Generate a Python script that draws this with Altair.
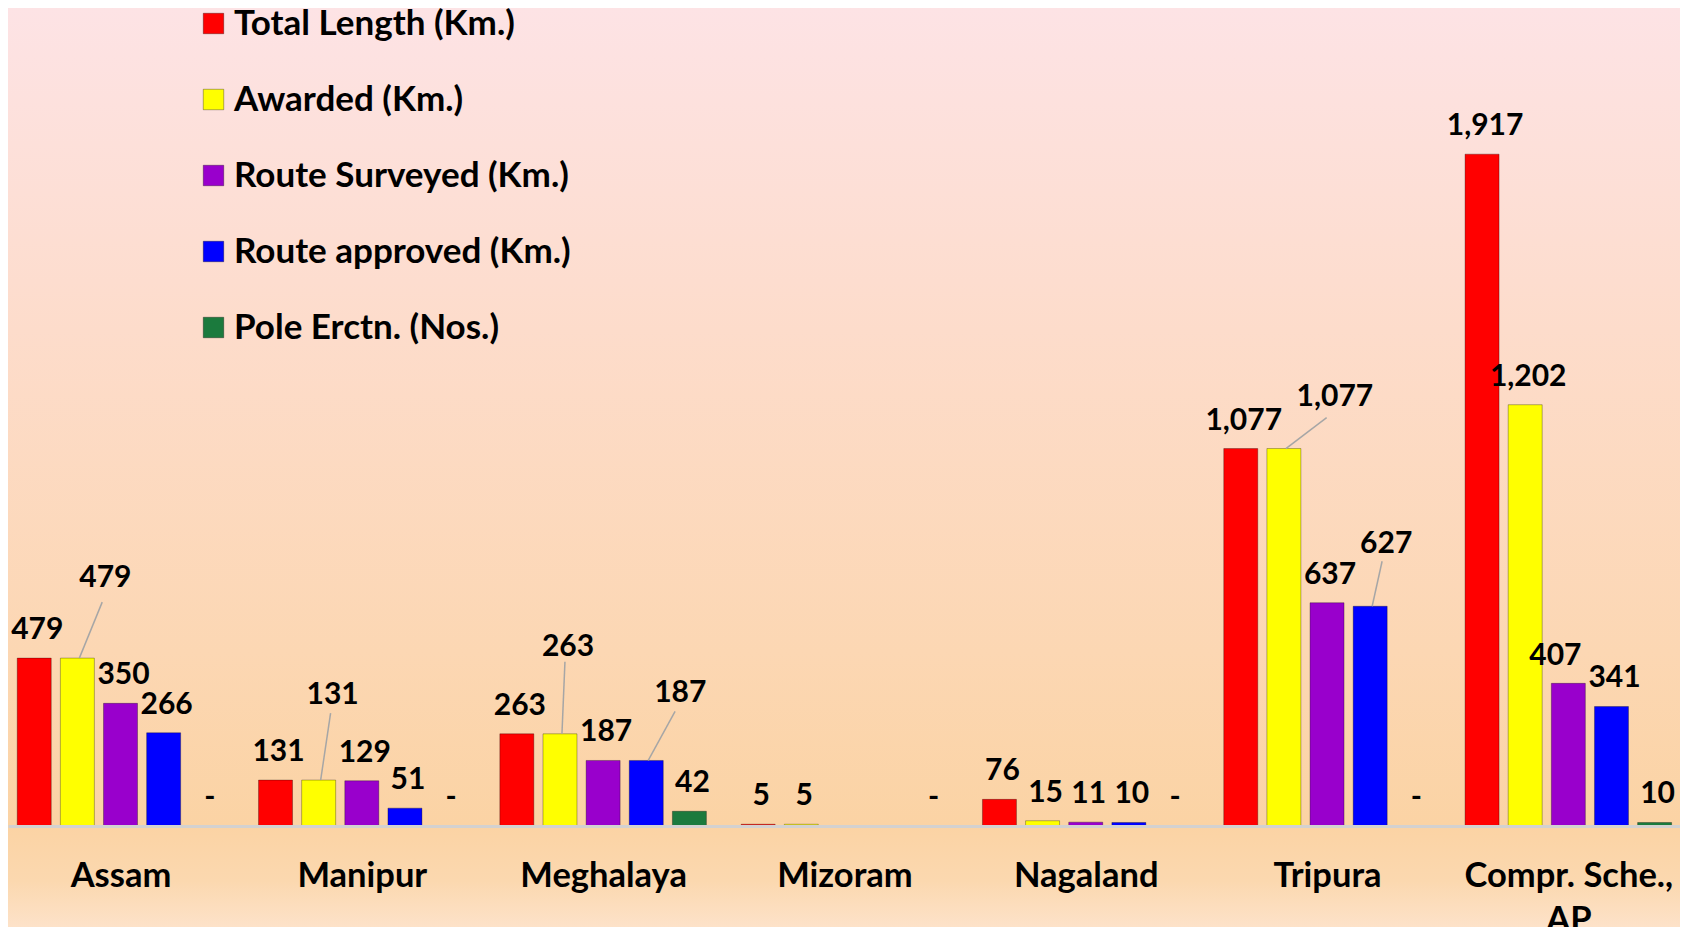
import altair as alt
import pandas as pd

# ---------------- data ----------------
categories = ["Assam", "Manipur", "Meghalaya", "Mizoram", "Nagaland", "Tripura", "Compr. Sche., AP"]
category_lines = [["Assam"], ["Manipur"], ["Meghalaya"], ["Mizoram"], ["Nagaland"], ["Tripura"], ["Compr. Sche.,", "AP"]]
series = ["Total Length (Km.)", "Awarded (Km.)", "Route Surveyed (Km.)", "Route approved (Km.)", "Pole Erctn. (Nos.)"]
total_length = [479, 131, 263, 5, 76, 1077, 1917]
awarded = [479, 131, 263, 5, 15, 1077, 1202]
route_surveyed = [350, 129, 187, None, 11, 637, 407]
route_approved = [266, 51, 187, None, 10, 627, 341]
pole_erection = [0, 0, 42, 0, 0, 0, 10]

colors = ["#FF0000", "#FFFF00", "#9900CC", "#0000FF", "#1B7A3D"]

# ---------------- layout (pixels) ----------------
W = 1672          # plot width (whole chart width)
PLOT_H = 818      # plot height (baseline)
TOTAL_H = 919
X_MIN, X_MAX = -0.4455, 6.442
BAND_PX = W / (X_MAX - X_MIN)
Y_MAX = 2334
PX_PER_UNIT = PLOT_H / Y_MAX
BAR_STEP = 43.4
BAR_W = 34
FONT = "Lato"
FS = 30

# label nudges (pixels relative to bar-top centre): (label dx, label dy, leader end dx, leader end dy)
DEFAULT_NUDGE = (3, -28)
nudges = {
    (0, 1): (28, -80, 25, -56),
    (1, 1): (14, -85, 12, -67),
    (2, 1): (8, -87, 5, -72),
    (2, 3): (34, -67, 29, -49),
    (5, 1): (51, -52, 43, -31),
    (5, 3): (16, -62, 12, -45),
    (6, 2): (-13, -27, None, None),
}

values = [total_length, awarded, route_surveyed, route_approved, pole_erection]
bar_rows, label_rows, leader_rows = [], [], []
for ci, cat in enumerate(categories):
    for si, ser in enumerate(series):
        v = values[si][ci]
        if v is None:
            continue
        xpos = ci + (si - 2) * BAR_STEP / BAND_PX
        if v > 0:
            bar_rows.append(dict(cat=cat, ser=ser, xpos=xpos, val=v))
        nd = nudges.get((ci, si))
        ldx, ldy = (nd[0], nd[1]) if nd else DEFAULT_NUDGE
        label_rows.append(dict(cat=cat, ser=ser, xpos=xpos, val=v,
                               txt=("-" if v == 0 else f"{v:,}"), ldx=ldx, ldy=ldy))
        if nd and nd[2] is not None:
            leader_rows.append(dict(x=xpos + 2 / BAND_PX, y=v,
                                    x2=xpos + nd[2] / BAND_PX, y2=v - nd[3] / PX_PER_UNIT))

bars_df = pd.DataFrame(bar_rows)
labels_df = pd.DataFrame(label_rows)
leaders_df = pd.DataFrame(leader_rows)

label_js = "[" + ",".join(
    ("'" + l[0] + "'") if len(l) == 1 else ("[" + ",".join("'" + s + "'" for s in l) + "]")
    for l in category_lines) + "]"

x_scale = alt.Scale(domain=[X_MIN, X_MAX], nice=False, zero=False)
y_scale = alt.Scale(domain=[0, Y_MAX], nice=False)

bg = alt.Chart(pd.DataFrame({"a": [0]})).mark_rect(
    color=alt.Gradient(
        gradient="linear", x1=0, x2=0, y1=0, y2=1,
        stops=[
            alt.GradientStop(offset=0.0, color="#FDE3E5"),
            alt.GradientStop(offset=0.35, color="#FDDCCB"),
            alt.GradientStop(offset=0.7, color="#FCD7B3"),
            alt.GradientStop(offset=0.89, color="#FBD3A4"),
            alt.GradientStop(offset=0.95, color="#FBD8AF"),
            alt.GradientStop(offset=1.0, color="#FDE2C9"),
        ],
    )
).encode(x=alt.value(0), x2=alt.value(W), y=alt.value(0), y2=alt.value(TOTAL_H))

bars = alt.Chart(bars_df).mark_bar(
    width=BAR_W, stroke="black", strokeOpacity=0.3, strokeWidth=1
).encode(
    x=alt.X("xpos:Q", scale=x_scale, axis=alt.Axis(
        values=list(range(len(categories))), labelExpr=label_js + "[datum.value]",
        title=None, grid=False, ticks=False, domain=True, domainColor="#D3D1D0", domainWidth=3,
        labelFont=FONT, labelFontSize=34.5, labelFontWeight="bold", labelColor="black",
        labelPadding=33, labelBaseline="top", labelLineHeight=44, labelAngle=0, labelLimit=0,
        labelOverlap=False, labelFlush=False, labelBound=False, zindex=1)),
    y=alt.Y("val:Q", scale=y_scale, axis=None),
    color=alt.Color("ser:N", scale=alt.Scale(domain=series, range=colors), legend=alt.Legend(
        title=None, orient="none", legendX=188, legendY=-2, padding=0,
        symbolType="square", symbolSize=420, symbolStrokeColor="#00000050", symbolStrokeWidth=1,
        labelFont=FONT, labelFontSize=35, labelFontWeight="bold", labelColor="black",
        labelOffset=3, rowPadding=40, labelLimit=0, zindex=1)),
)

leaders = alt.Chart(leaders_df).mark_rule(color="#A6A6A6", strokeWidth=1.5).encode(
    x=alt.X("x:Q", scale=x_scale), x2="x2:Q",
    y=alt.Y("y:Q", scale=y_scale), y2="y2:Q",
)

labels = alt.Chart(labels_df).mark_text(
    font=FONT, fontSize=FS, fontWeight="bold", color="black", align="center", baseline="middle",
    dx=alt.ExprRef(expr="datum.ldx"), dy=alt.ExprRef(expr="datum.ldy"),
).encode(
    x=alt.X("xpos:Q", scale=x_scale),
    y=alt.Y("val:Q", scale=y_scale),
    text="txt:N",
)

chart = alt.layer(bg, bars, leaders, labels).properties(
    width=W, height=PLOT_H,
    autosize=alt.AutoSizeParams(type="none"),
    padding={"left": 0, "top": 0, "right": 0, "bottom": TOTAL_H - PLOT_H},
).configure_view(stroke=None).configure(background="#FDE3E5")

chart.save("out.html", embed_options={"renderer": "svg", "actions": False})
